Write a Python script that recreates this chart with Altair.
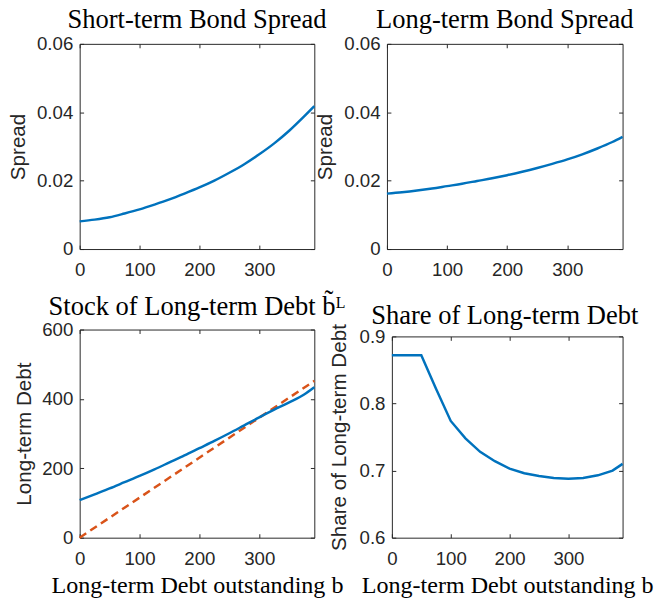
import altair as alt
import pandas as pd

# ---- data ----
b_vals = [0, 25, 50, 75, 100, 125, 150, 175, 200, 225, 250, 275, 300, 325, 350, 375, 392]
short_spread = [0.0081, 0.0086, 0.0093, 0.0104, 0.0116, 0.0130, 0.0145, 0.0162, 0.0180,
                0.0200, 0.0223, 0.0248, 0.0277, 0.0309, 0.0346, 0.0388, 0.0418]
long_spread = [0.0162, 0.0166, 0.0171, 0.0177, 0.0184, 0.0191, 0.0199, 0.0207, 0.0216,
               0.0226, 0.0237, 0.0249, 0.0262, 0.0277, 0.0294, 0.0313, 0.0328]
lt_debt = [108, 125, 142, 160, 178, 197, 217, 237, 258, 279, 301, 324, 347, 369, 390, 413, 434]
share_lt = [0.872, 0.872, 0.872, 0.822, 0.774, 0.748, 0.728, 0.714, 0.703, 0.696, 0.692,
            0.689, 0.688, 0.689, 0.693, 0.700, 0.710]
diag_b = [0, 392]
diag_v = [0, 452]

x_ticks = [0, 100, 200, 300]

BLUE = "#0072BD"
ORANGE = "#D95319"
INK = "#262626"
SANS = "Liberation Sans, Arial, sans-serif"
SERIF = "Liberation Serif, DejaVu Serif, serif"

df = pd.DataFrame({"b": b_vals, "short": short_spread, "long": long_spread,
                   "debt": lt_debt, "share": share_lt})
df_diag = pd.DataFrame({"b": diag_b, "v": diag_v})


def panel(col, ydomain, yticks, yfmt, ytitle, title, W, H, xtitle=None,
          ytitle_pad=8, extra=None, left_in=0, top_in=0, title_dy=0,
          interp="monotone"):
    xs = alt.Scale(domain=[0, 392], nice=False, zero=False, range=[left_in, W])
    ys = alt.Scale(domain=ydomain, nice=False, zero=False, range=[H, top_in])
    label_expr = f"datum.value == 0 ? '0' : format(datum.value, '{yfmt}')"
    x_axis_kw = dict(values=x_ticks, ticks=False, domain=True, domainColor=INK,
                     domainWidth=1, grid=False, labelPadding=12, labelFlush=False,
                     labelFont=SANS, labelFontSize=19, labelColor=INK)
    if xtitle:
        x_axis_kw.update(title=xtitle, titleFont=SERIF, titleFontSize=24.5,
                         titleFontWeight="normal", titleColor="#000000",
                         titlePadding=6)
    else:
        x_axis_kw.update(title=None)
    main = alt.Chart(df).mark_line(color=BLUE, strokeWidth=2.5,
                                   interpolate=interp).encode(
        x=alt.X("b:Q", scale=xs, axis=alt.Axis(**x_axis_kw)),
        y=alt.Y(f"{col}:Q", scale=ys, axis=alt.Axis(
            values=yticks, ticks=False, domain=True, domainColor=INK, domainWidth=1,
            offset=-left_in, grid=False,
            labelPadding=7, labelExpr=label_expr, labelFont=SANS,
            labelFontSize=19, labelColor=INK, title=ytitle, titleFont=SANS,
            titleFontSize=21, titleFontWeight="normal", titleColor=INK,
            titlePadding=ytitle_pad)),
    )
    tick_kw = dict(labels=False, grid=False, title=None,
                   tickSize=4, tickColor=INK, tickWidth=1, domainColor=INK,
                   domainWidth=1)
    # inward ticks on bottom edge and left edge
    t1 = alt.Chart(df).mark_line(opacity=0).encode(
        x=alt.X("b:Q", scale=xs, axis=alt.Axis(orient="top", offset=-H, domain=False,
                                               values=x_ticks, **tick_kw)),
        y=alt.Y(f"{col}:Q", scale=ys, axis=alt.Axis(orient="right", offset=left_in - W,
                                                    domain=False, values=yticks,
                                                    **tick_kw)),
    )
    # frame top and right edges with inward ticks
    t2 = alt.Chart(df).mark_line(opacity=0).encode(
        x=alt.X("b:Q", scale=xs, axis=alt.Axis(orient="bottom", offset=top_in - H,
                                               domain=True, values=x_ticks, **tick_kw)),
        y=alt.Y(f"{col}:Q", scale=ys, axis=alt.Axis(orient="left", offset=-W,
                                                    domain=True, values=yticks,
                                                    **tick_kw)),
    )
    layers = [main, t1, t2]
    if extra is not None:
        layers.insert(0, extra(xs, ys))
    return alt.layer(*layers).resolve_axis(x="independent", y="independent").properties(
        width=W, height=H,
        title=alt.TitleParams(title, font=SERIF, fontSize=27, fontWeight="normal",
                              color="#000000", anchor="middle", frame="group",
                              baseline="alphabetic", offset=-20, dy=title_dy),
    )


def diag_layer(xs, ys):
    return alt.Chart(df_diag).mark_line(color=ORANGE, strokeWidth=2.5,
                                        strokeDash=[8, 5]).encode(
        x=alt.X("b:Q", scale=xs, axis=None),
        y=alt.Y("v:Q", scale=ys, axis=None),
    )


TL = panel("short", [0, 0.06], [0, 0.02, 0.04, 0.06], ".2f", "Spread",
           "Short-term Bond Spread", 239, 209)
TR = panel("long", [0, 0.06], [0, 0.02, 0.04, 0.06], ".2f", "Spread",
           "Long-term Bond Spread", 240, 209)
BL = panel("debt", [0, 600], [0, 200, 400, 600], "d", "Long-term Debt",
           "Stock of Long-term Debt b\u0303\u1D38", 239, 212,
           xtitle="Long-term Debt outstanding b", ytitle_pad=7, extra=diag_layer,
           title_dy=1.5)
BR = panel("share", [0.6, 0.9], [0.6, 0.7, 0.8, 0.9], ".1f", "Share of Long-term Debt",
           "Share of Long-term Debt", 240, 212,
           xtitle="Long-term Debt outstanding b", ytitle_pad=10, left_in=5, top_in=7,
           title_dy=7, interp="linear")

chart = alt.concat(TL, TR, BL, BR, columns=2, bounds="flush",
                   spacing={"row": 82, "column": 74}).properties(
    padding={"left": 0, "top": -7, "right": 0, "bottom": 0},
    background="#ffffff",
).configure_view(strokeOpacity=0)

chart.save("out.html", embed_options={"renderer": "svg", "actions": False})
